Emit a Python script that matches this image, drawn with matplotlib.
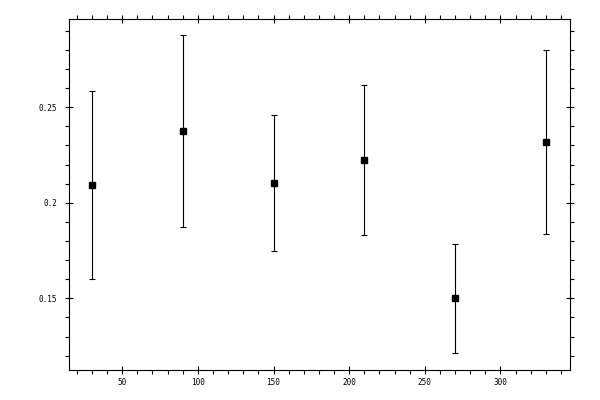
import matplotlib
matplotlib.use("Agg")
import matplotlib.pyplot as plt
from matplotlib.ticker import MultipleLocator, FuncFormatter

x_values = [30, 90, 150, 210, 270, 330]
y_values = [0.2094, 0.2376, 0.2105, 0.2222, 0.1500, 0.2317]
y_errors = [0.0493, 0.0502, 0.0355, 0.0393, 0.0286, 0.0481]

fig = plt.figure(figsize=(6, 4), dpi=100)
ax = fig.add_axes([0.1155, 0.075, 0.8345, 0.877])

ax.errorbar(x_values, y_values, yerr=y_errors, fmt='s', color='black',
            markersize=4.8, elinewidth=0.8, capsize=2, capthick=0.8,
            ecolor='black')

ax.set_xlim(15, 346)
ax.set_ylim(0.1125, 0.2961)

ax.xaxis.set_major_locator(MultipleLocator(50))
ax.xaxis.set_minor_locator(MultipleLocator(10))
ax.yaxis.set_major_locator(MultipleLocator(0.05))
ax.yaxis.set_minor_locator(MultipleLocator(0.01))

def yfmt(v, pos):
    s = ('%.2f' % v).rstrip('0').rstrip('.')
    return s
ax.yaxis.set_major_formatter(FuncFormatter(yfmt))

for sp in ax.spines.values():
    sp.set_linewidth(0.8)

ax.tick_params(which='major', direction='inout', length=6, width=0.8,
               top=True, right=True, labelsize=5.5)
ax.tick_params(which='minor', direction='out', length=3, width=0.8,
               top=True, right=True)
ax.tick_params(axis='x', which='major', pad=2.5)
ax.tick_params(axis='y', which='major', pad=5.5)

for lab in ax.get_xticklabels() + ax.get_yticklabels():
    lab.set_family('DejaVu Sans Mono')

fig.savefig('out.png', dpi=100)
